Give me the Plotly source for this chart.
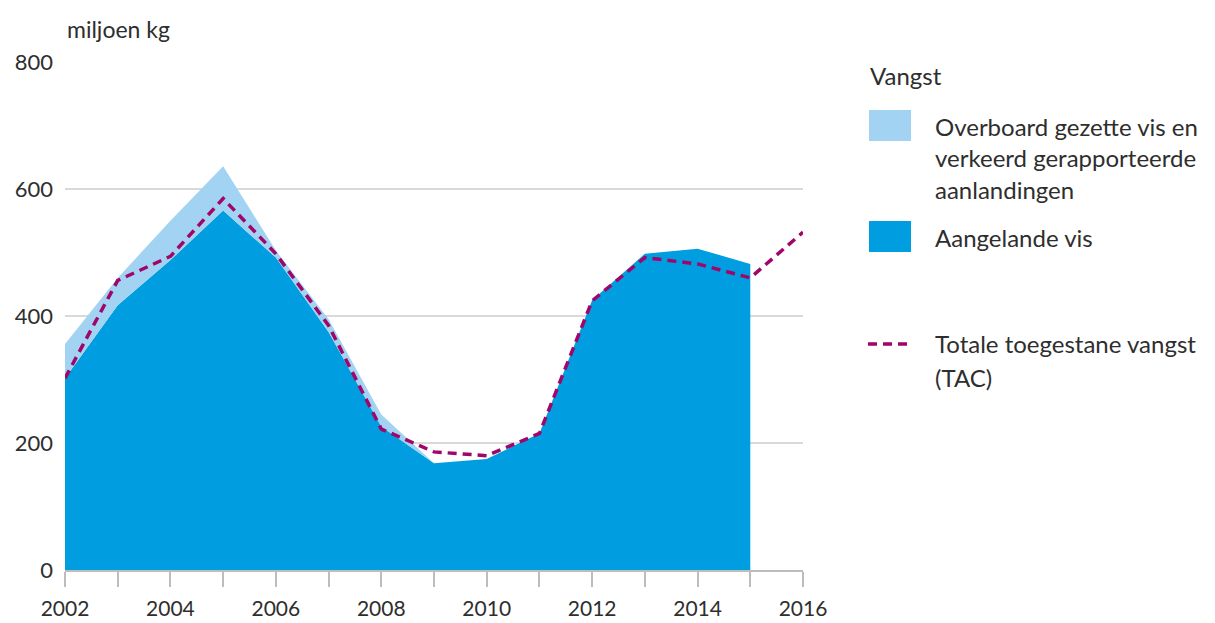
import plotly.graph_objects as go

# Data (miljoen kg)
jaren = [2002, 2003, 2004, 2005, 2006, 2007, 2008, 2009, 2010, 2011, 2012, 2013, 2014, 2015]
aangelande_vis = [302, 417, 488, 566, 492, 375, 226, 168, 175, 215, 425, 498, 506, 482]
overboord_gezet = [54, 43, 62, 70, 11, 20, 19, 0, 0, 0, 0, 0, 0, 0]
tac_jaren = [2002, 2003, 2004, 2005, 2006, 2007, 2008, 2009, 2010, 2011, 2012, 2013, 2014, 2015, 2016]
tac = [302, 456, 494, 585, 498, 385, 222, 186, 180, 215, 424, 492, 482, 460, 532]
y_ticks = [0, 200, 400, 600, 800]
x_ticks = list(range(2002, 2017))
x_labels = [str(y) if y % 2 == 0 else "" for y in x_ticks]

DARK = "#009EE0"
LIGHT = "#A2D3F2"
TAC_C = "#A0066A"
TXT = "#2E2E2E"
FONT = "Lato"

W, H = 1215, 623
OFF = 8  # page body margin
X0, X1, Y0, Y1 = 65, 803, 62, 570  # plot area in screenshot pixels
L, T = X0 - OFF, Y0 - OFF
R, B = W - (X1 - OFF), H - (Y1 - OFF)

def px(xp):
    return (xp - X0) / (X1 - X0)

def py(yp):
    return (Y1 - yp) / (Y1 - Y0)

fig = go.Figure()
fig.add_trace(go.Scatter(
    x=jaren, y=aangelande_vis, stackgroup="v", mode="none",
    fillcolor=DARK, name="Aangelande vis", line=dict(width=0)))
fig.add_trace(go.Scatter(
    x=jaren, y=overboord_gezet, stackgroup="v", mode="none",
    fillcolor=LIGHT, name="Overboord gezette vis en verkeerd gerapporteerde aanlandingen",
    line=dict(width=0)))
fig.add_trace(go.Scatter(
    x=tac_jaren, y=tac, mode="lines", name="Totale toegestane vangst (TAC)",
    line=dict(color=TAC_C, width=3.5, dash="9px,6px"), cliponaxis=False))

fig.update_layout(
    width=W, height=H,
    margin=dict(l=L, r=R, t=T, b=B),
    paper_bgcolor="white", plot_bgcolor="white",
    showlegend=False,
    font=dict(family=FONT, color=TXT, size=22),
    xaxis=dict(
        range=[2002, 2016], tickmode="array", tickvals=x_ticks, ticktext=x_labels,
        ticks="outside", ticklen=15, tickcolor="#BDBDBD", tickwidth=1.5,
        showgrid=False, zeroline=False, showline=True, linecolor="#BDBDBD", linewidth=1.5,
        tickfont=dict(size=21, color=TXT), ticklabelstandoff=4, automargin=False,
        fixedrange=True),
    yaxis=dict(
        range=[0, 800], tickmode="array", tickvals=y_ticks,
        showgrid=True, gridcolor="#D9D9D9", gridwidth=1.5,
        zeroline=False, showline=False, ticks="", ticklabelstandoff=11,
        tickfont=dict(size=22, color=TXT), automargin=False, fixedrange=True),
)

ann = []
ann.append(dict(text="miljoen kg", x=0, y=py(29), xref="paper", yref="paper",
                xanchor="left", yanchor="middle", showarrow=False, font=dict(size=23)))
ann.append(dict(text="Vangst", x=px(868), y=py(76), xref="paper", yref="paper",
                xanchor="left", yanchor="middle", showarrow=False, font=dict(size=24)))
legend_text = [
    ("Overboard gezette vis en", 126),
    ("verkeerd gerapporteerde", 157),
    ("aanlandingen", 189),
    ("Aangelande vis", 237),
    ("Totale toegestane vangst", 343),
    ("(TAC)", 377),
]
for t, yy in legend_text:
    ann.append(dict(text=t, x=px(933), y=py(yy), xref="paper", yref="paper",
                    xanchor="left", yanchor="middle", showarrow=False, font=dict(size=24)))
fig.update_layout(annotations=ann)

shapes = [
    dict(type="rect", xref="paper", yref="paper", x0=px(869), x1=px(911), y0=py(110), y1=py(141),
         fillcolor=LIGHT, line=dict(width=0)),
    dict(type="rect", xref="paper", yref="paper", x0=px(869), x1=px(911), y0=py(221), y1=py(252),
         fillcolor=DARK, line=dict(width=0)),
    dict(type="line", xref="paper", yref="paper", x0=px(868), x1=px(912), y0=py(344), y1=py(344),
         line=dict(color=TAC_C, width=3.5, dash="9px,6px")),
]
fig.update_layout(shapes=shapes)

fig.write_html("out.html")
